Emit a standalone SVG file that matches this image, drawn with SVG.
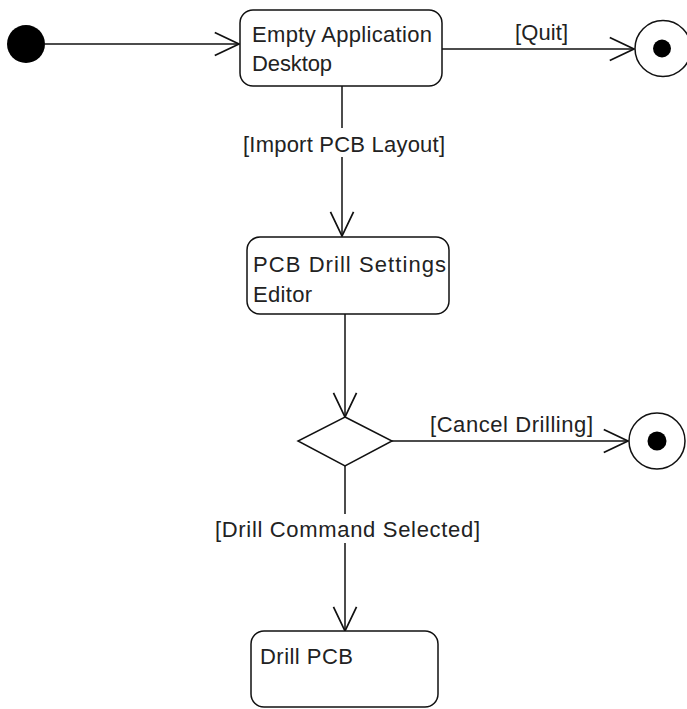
<svg xmlns="http://www.w3.org/2000/svg" width="687" height="709" viewBox="0 0 687 709">
  <style>
    .state { fill: #ffffff; stroke: #111111; stroke-width: 1.5; }
    .txt { font-family: "Liberation Sans", Arial, sans-serif; font-size: 22px; fill: #222222; }
    .edge { fill: none; stroke: #111111; stroke-width: 1.5; }
    .lbl-bg { fill: #ffffff; stroke: none; }
  </style>
  <defs>
    <marker id="open" markerUnits="userSpaceOnUse" markerWidth="30" markerHeight="30" viewBox="-24 -12 26 24" refX="0" refY="0" orient="auto">
      <path d="M -21,-10 L 0,0 L -21,10" fill="none" stroke="#111111" stroke-width="1.5"/>
    </marker>
  </defs>

  <!-- transitions -->
  <g id="connectors">
    <line class="edge" x1="45" y1="44" x2="239" y2="44" marker-end="url(#open)"/>
    <line class="edge" x1="442" y1="49" x2="634" y2="49" marker-end="url(#open)"/>
    <line class="edge" x1="342" y1="86" x2="342" y2="236" marker-end="url(#open)"/>
    <line class="edge" x1="345" y1="314" x2="345" y2="417" marker-end="url(#open)"/>
    <line class="edge" x1="392" y1="441" x2="628" y2="441" marker-end="url(#open)"/>
    <line class="edge" x1="345" y1="466" x2="345" y2="631" marker-end="url(#open)"/>

    <text class="txt" x="515" y="40" textLength="53" lengthAdjust="spacing">[Quit]</text>
    <rect class="lbl-bg" x="240" y="128" width="208" height="29"/>
    <text class="txt" x="243" y="152" textLength="202" lengthAdjust="spacing">[Import PCB Layout]</text>
    <text class="txt" x="430" y="432" textLength="163" lengthAdjust="spacing">[Cancel Drilling]</text>
    <rect class="lbl-bg" x="212" y="514" width="272" height="29"/>
    <text class="txt" x="215" y="537" textLength="265" lengthAdjust="spacing">[Drill Command Selected]</text>
  </g>

  <g id="initial">
    <circle cx="26" cy="44" r="19" fill="#000000"/>
  </g>

  <g id="empty-desktop">
    <rect class="state" x="240" y="10" width="202" height="76" rx="13" ry="13"/>
    <text class="txt" x="252" y="42" textLength="180" lengthAdjust="spacing">Empty Application</text>
    <text class="txt" x="252" y="71" textLength="80" lengthAdjust="spacing">Desktop</text>
  </g>

  <g id="final-quit">
    <circle cx="663" cy="48.5" r="28" fill="#ffffff" stroke="#111111" stroke-width="1.5"/>
    <circle cx="662" cy="48.5" r="9" fill="#000000"/>
  </g>

  <g id="drill-settings">
    <rect class="state" x="247" y="237" width="202" height="77" rx="13" ry="13"/>
    <text class="txt" x="253" y="272" textLength="193" lengthAdjust="spacing">PCB Drill Settings</text>
    <text class="txt" x="253" y="302" textLength="59" lengthAdjust="spacing">Editor</text>
  </g>

  <g id="decision">
    <polygon points="345,417 392,441 345,466 298,441" fill="#ffffff" stroke="#111111" stroke-width="1.5"/>
  </g>

  <g id="final-cancel">
    <circle cx="657" cy="441" r="28" fill="#ffffff" stroke="#111111" stroke-width="1.5"/>
    <circle cx="657" cy="441" r="9.5" fill="#000000"/>
  </g>

  <g id="drill-pcb">
    <rect class="state" x="251" y="631" width="187" height="76" rx="13" ry="13"/>
    <text class="txt" x="260" y="664" textLength="93" lengthAdjust="spacing">Drill PCB</text>
  </g>
</svg>
